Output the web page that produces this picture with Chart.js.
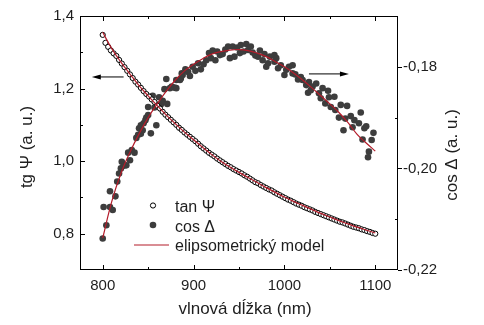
<!DOCTYPE html>
<html>
<head>
<meta charset="utf-8">
<script src="https://cdn.jsdelivr.net/npm/chart.js@4.4.1/dist/chart.umd.min.js"></script>
<style>
html, body { margin:0; padding:0; background:#fff; }
#wrap { width:484px; height:325px; }
</style>
</head>
<body>
<div id="wrap"><canvas id="graf" width="484" height="325"></canvas></div>
<script>
// tan Psi - merane body (lava os)
const vlnaTan = [800,803,806,809,812,815,818,821,824,827,830,833,836,839,842,845,848,851,854,857,
  860,863,866,869,872,875,878,881,884,887,890,893,896,899,902,905,908,911,914,917,
  920,923,926,929,932,935,938,941,944,947,950,953,956,959,962,965,968,971,974,977,
  980,983,986,989,992,995,998,1001,1004,1007,1010,1013,1016,1019,1022,1025,1028,1031,1034,1037,
  1040,1043,1046,1049,1052,1055,1058,1061,1064,1067,1070,1073,1076,1079,1082,1085,1088,1091,1094,1097,1100];
const tanPsi = [1.348,1.326,1.315,1.305,1.297,1.290,1.279,1.269,1.259,1.249,1.239,1.229,1.219,1.211,1.202,1.193,1.185,1.178,1.170,1.163,
  1.153,1.145,1.136,1.128,1.121,1.114,1.107,1.100,1.092,1.086,1.079,1.073,1.067,1.061,1.055,1.048,1.041,1.035,1.029,1.023,
  1.018,1.013,1.007,1.002,0.997,0.992,0.987,0.983,0.978,0.974,0.970,0.966,0.961,0.957,0.952,0.947,0.942,0.939,0.934,0.930,
  0.926,0.922,0.919,0.914,0.910,0.906,0.902,0.898,0.894,0.891,0.887,0.883,0.880,0.877,0.873,0.870,0.867,0.864,0.860,0.857,
  0.854,0.851,0.848,0.845,0.842,0.839,0.836,0.833,0.831,0.828,0.825,0.822,0.819,0.817,0.815,0.812,0.810,0.807,0.805,0.802,0.800];

// cos Delta - merane body (prava os)
const vlnaCos = [800,801,804,808,808,811,814,816,818,820,821,823,826,828,830,832,835,837,839,840,
  842,842,844,845,847,848,850,850,853,855,857,859,860,862,864,866,868,870,871,874,
  876,879,881,881,885,886,887,888,891,894,896,899,902,905,908,911,914,917,919,921,
  924,926,929,932,935,938,940,943,945,948,951,952,955,958,960,963,965,968,971,973,
  976,978,980,982,984,989,989,991,993,996,1000,1002,1005,1009,1009,1012,1015,1018,1020,1024,
  1026,1027,1029,1031,1035,1038,1040,1042,1045,1048,1049,1051,1055,1056,1060,1062,1065,1067,1069,1073,
  1075,1077,1082,1084,1086,1088,1090,1092,1093,1096,1098];
const cosDelta = [-0.2138,-0.2076,-0.2112,-0.2076,-0.2045,-0.2082,-0.2055,-0.2026,-0.2010,-0.2000,-0.1987,-0.1995,-0.1994,-0.1969,-0.1984,-0.1964,-0.1969,-0.1940,-0.1934,-0.1921,
  -0.1932,-0.1915,-0.1925,-0.1911,-0.1905,-0.1900,-0.1895,-0.1879,-0.1931,-0.1857,-0.1880,-0.1915,-0.1875,-0.1860,-0.1874,-0.1867,-0.1844,-0.1824,-0.1873,-0.1842,
  -0.1839,-0.1841,-0.1826,-0.1842,-0.1826,-0.1823,-0.1813,-0.1816,-0.1805,-0.1810,-0.1818,-0.1800,-0.1808,-0.1793,-0.1805,-0.1795,-0.1787,-0.1773,-0.1783,-0.1768,
  -0.1787,-0.1770,-0.1777,-0.1775,-0.1766,-0.1760,-0.1783,-0.1760,-0.1780,-0.1762,-0.1773,-0.1757,-0.1770,-0.1755,-0.1767,-0.1760,-0.1772,-0.1778,-0.1780,-0.1768,
  -0.1787,-0.1775,-0.1800,-0.1793,-0.1780,-0.1777,-0.1790,-0.1783,-0.1803,-0.1797,-0.1816,-0.1806,-0.1800,-0.1797,-0.1813,-0.1815,-0.1825,-0.1820,-0.1826,-0.1836,
  -0.1851,-0.1830,-0.1846,-0.1839,-0.1833,-0.1852,-0.1862,-0.1842,-0.1872,-0.1847,-0.1860,-0.1879,-0.1859,-0.1885,-0.1900,-0.1875,-0.1925,-0.1902,-0.1877,-0.1897,
  -0.1919,-0.1905,-0.1911,-0.1890,-0.1943,-0.1921,-0.1917,-0.1978,-0.1967,-0.1944,-0.1930];

// elipsometricky model
const vlnaModel = [800,810,820,830,840,850,860,870,880,890,900,910,920,930,940,950,960,970,980,990,
  1000,1010,1020,1030,1040,1050,1060,1070,1080,1090,1100];
const modelTan = [1.355,1.310,1.273,1.240,1.208,1.180,1.153,1.127,1.103,1.080,1.059,1.038,1.018,1.000,0.984,0.969,0.955,0.941,0.927,0.914,
  0.901,0.889,0.878,0.867,0.856,0.846,0.836,0.827,0.818,0.810,0.802];
const modelCos = [-0.2137,-0.2065,-0.2010,-0.1968,-0.1932,-0.1900,-0.1873,-0.1848,-0.1826,-0.1808,-0.1795,-0.1784,-0.1775,-0.1770,-0.1767,-0.1766,-0.1768,-0.1773,-0.1780,-0.1790,
  -0.1800,-0.1812,-0.1826,-0.1841,-0.1857,-0.1873,-0.1890,-0.1910,-0.1933,-0.1950,-0.1966];

const xTicks = [800, 900, 1000, 1100];
const xMinor = [850, 950, 1050];
const tanTicks = [0.8, 1.0, 1.2, 1.4];
const tanMinor = [0.9, 1.1, 1.3];
const cosTicks = [-0.22, -0.20, -0.18];
const cosMinor = [-0.21, -0.19];

var cervena = '#b31c2a';
var seda = '#3d3d3d';
var textFarba = '#1e1e1e';
var pismo = '"Liberation Sans", Arial, sans-serif';

function body(xs, ys) {
    return xs.map(function (x, i) { return { x: x, y: ys[i] }; });
}

var ramecek = {
    id: 'ramecek',
    afterDraw: function (chart) {
        var ctx = chart.ctx;
        var a = chart.chartArea;
        var sx = chart.scales.x, sy = chart.scales.y, sy2 = chart.scales.y2;
        ctx.save();
        ctx.strokeStyle = '#000';
        ctx.lineWidth = 1;
        ctx.strokeRect(a.left + 0.5, a.top + 0.5, a.right - a.left - 1, a.bottom - a.top - 1);

        ctx.beginPath();
        xTicks.forEach(function (v) {
            var p = Math.round(sx.getPixelForValue(v)) + 0.5;
            ctx.moveTo(p, a.bottom); ctx.lineTo(p, a.bottom - 5);
            ctx.moveTo(p, a.top); ctx.lineTo(p, a.top + 5);
        });
        xMinor.forEach(function (v) {
            var p = Math.round(sx.getPixelForValue(v)) + 0.5;
            ctx.moveTo(p, a.bottom); ctx.lineTo(p, a.bottom - 3);
            ctx.moveTo(p, a.top); ctx.lineTo(p, a.top + 3);
        });
        tanTicks.forEach(function (v) {
            var p = Math.round(sy.getPixelForValue(v)) + 0.5;
            ctx.moveTo(a.left, p); ctx.lineTo(a.left + 5, p);
        });
        tanMinor.forEach(function (v) {
            var p = Math.round(sy.getPixelForValue(v)) + 0.5;
            ctx.moveTo(a.left, p); ctx.lineTo(a.left + 3, p);
        });
        cosTicks.forEach(function (v) {
            var p = Math.round(sy2.getPixelForValue(v)) + 0.5;
            ctx.moveTo(a.right, p); ctx.lineTo(a.right + 4, p);
        });
        cosMinor.forEach(function (v) {
            var p = Math.round(sy2.getPixelForValue(v)) + 0.5;
            ctx.moveTo(a.right, p); ctx.lineTo(a.right - 3, p);
        });
        ctx.stroke();

        // nazvy osi
        ctx.fillStyle = textFarba;
        ctx.font = '17px ' + pismo;
        ctx.textAlign = 'center';
        ctx.textBaseline = 'middle';
        ctx.fillText('vlnová dĺžka (nm)', 245, 309);
        ctx.save();
        ctx.translate(27, 147);
        ctx.rotate(-Math.PI / 2);
        ctx.fillText('tg \u03A8 (a. u.)', 0, 0);
        ctx.restore();
        ctx.save();
        ctx.translate(452, 155);
        ctx.rotate(-Math.PI / 2);
        ctx.fillText('cos \u0394 (a. u.)', 0, 0);
        ctx.restore();

        // sipky
        var ly = sy.getPixelForValue(1.232);
        var lx1 = sx.getPixelForValue(788), lx2 = sx.getPixelForValue(823);
        ctx.beginPath();
        ctx.moveTo(lx1 + 6, ly); ctx.lineTo(lx2, ly);
        ctx.stroke();
        ctx.fillStyle = '#000';
        ctx.beginPath();
        ctx.moveTo(lx1, ly); ctx.lineTo(lx1 + 9, ly - 2.5); ctx.lineTo(lx1 + 9, ly + 2.5); ctx.closePath();
        ctx.fill();

        var ry = sy2.getPixelForValue(-0.1814);
        var rx1 = sx.getPixelForValue(1027), rx2 = sx.getPixelForValue(1071);
        ctx.beginPath();
        ctx.moveTo(rx1, ry); ctx.lineTo(rx2 - 6, ry);
        ctx.stroke();
        ctx.beginPath();
        ctx.moveTo(rx2, ry); ctx.lineTo(rx2 - 9, ry - 2.5); ctx.lineTo(rx2 - 9, ry + 2.5); ctx.closePath();
        ctx.fill();

        // legenda
        ctx.font = '16px ' + pismo;
        ctx.textAlign = 'left';
        ctx.textBaseline = 'alphabetic';
        ctx.fillStyle = textFarba;
        ctx.fillText('tan \u03A8', 175, 212);
        ctx.fillText('cos \u0394', 175, 232);
        ctx.fillText('elipsometrický model', 175, 251);

        ctx.beginPath();
        ctx.arc(153, 205.5, 2.6, 0, Math.PI * 2);
        ctx.fillStyle = '#fff';
        ctx.fill();
        ctx.strokeStyle = '#000';
        ctx.stroke();
        ctx.beginPath();
        ctx.arc(153, 225, 3.3, 0, Math.PI * 2);
        ctx.fillStyle = seda;
        ctx.fill();
        ctx.beginPath();
        ctx.strokeStyle = cervena;
        ctx.lineWidth = 1.2;
        ctx.moveTo(134, 245); ctx.lineTo(169, 245);
        ctx.stroke();
        ctx.restore();
    }
};

window.addEventListener('load', function () {
    new Chart(document.getElementById('graf'), {
        type: 'scatter',
        data: {
            datasets: [
                {
                    label: 'elipsometrický model tan',
                    data: body(vlnaModel, modelTan),
                    yAxisID: 'y',
                    showLine: true,
                    borderColor: cervena,
                    borderWidth: 1.2,
                    pointRadius: 0,
                    tension: 0.4,
                    order: 0
                },
                {
                    label: 'elipsometrický model cos',
                    data: body(vlnaModel, modelCos),
                    yAxisID: 'y2',
                    showLine: true,
                    borderColor: cervena,
                    borderWidth: 1.2,
                    pointRadius: 0,
                    tension: 0.4,
                    order: 0
                },
                {
                    label: 'tan \u03A8',
                    data: body(vlnaTan, tanPsi),
                    yAxisID: 'y',
                    pointRadius: 2.6,
                    pointBackgroundColor: '#fff',
                    pointBorderColor: '#000',
                    pointBorderWidth: 1,
                    order: 1
                },
                {
                    label: 'cos \u0394',
                    data: body(vlnaCos, cosDelta),
                    yAxisID: 'y2',
                    pointRadius: 3.3,
                    pointBackgroundColor: seda,
                    pointBorderColor: seda,
                    pointBorderWidth: 0,
                    order: 2
                }
            ]
        },
        options: {
            responsive: false,
            animation: false,
            devicePixelRatio: 1,
            layout: { padding: { top: 16, left: 0, right: 0, bottom: 0 } },
            plugins: { legend: { display: false }, tooltip: { enabled: false } },
            scales: {
                x: {
                    type: 'linear',
                    position: 'bottom',
                    min: 775, max: 1125,
                    grid: { display: false, drawTicks: false },
                    border: { display: false },
                    afterBuildTicks: function (s) { s.ticks = xTicks.map(function (v) { return { value: v }; }); },
                    afterFit: function (s) { s.height = 55; },
                    ticks: {
                        autoSkip: false, maxRotation: 0, padding: 7,
                        color: textFarba, font: { family: pismo, size: 15 },
                        callback: function (v) { return String(v); }
                    }
                },
                y: {
                    type: 'linear',
                    position: 'left',
                    min: 0.7, max: 1.4,
                    grid: { display: false, drawTicks: false },
                    border: { display: false },
                    afterBuildTicks: function (s) { s.ticks = tanTicks.map(function (v) { return { value: v }; }); },
                    afterFit: function (s) { s.width = 80; },
                    ticks: {
                        padding: 6, color: textFarba, font: { family: pismo, size: 15 },
                        callback: function (v) { return v.toFixed(1).replace('.', ','); }
                    }
                },
                y2: {
                    type: 'linear',
                    position: 'right',
                    min: -0.22, max: -0.17,
                    grid: { display: false, drawTicks: false },
                    border: { display: false },
                    afterBuildTicks: function (s) { s.ticks = cosTicks.map(function (v) { return { value: v }; }); },
                    afterFit: function (s) { s.width = 86; },
                    ticks: {
                        padding: 5, color: textFarba, font: { family: pismo, size: 15 },
                        callback: function (v) { return v.toFixed(2).replace('.', ','); }
                    }
                }
            }
        },
        plugins: [ramecek]
    });
});
</script>
</body>
</html>
